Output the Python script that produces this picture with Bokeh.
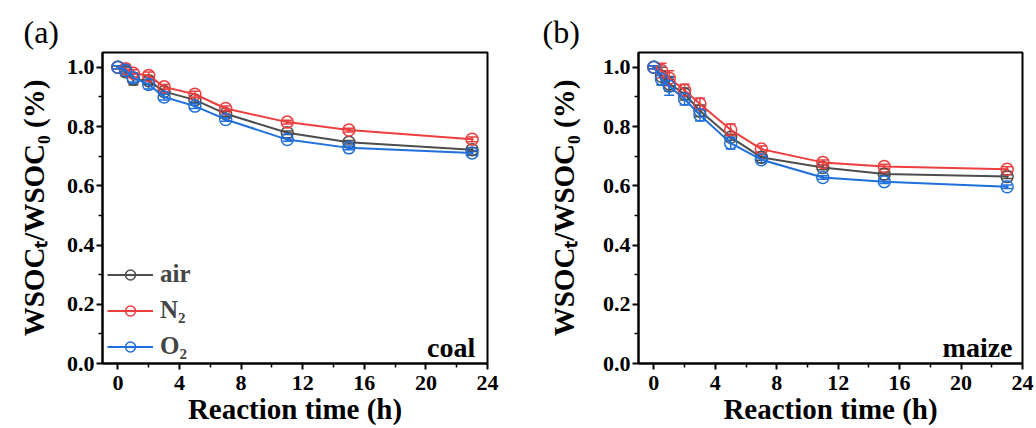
from bokeh.plotting import figure
from bokeh.layouts import row
from bokeh.models import (ColumnDataSource, Whisker, TeeHead, Legend, LegendItem,
                          FixedTicker, PrintfTickFormatter, Range1d, Label, Title)
from bokeh.embed import file_html
from bokeh.resources import INLINE

# ---- data ----
time_h = [0, 0.5, 1, 2, 3, 5, 7, 11, 15, 23]

coal_air = [1.0, 0.985, 0.96, 0.955, 0.918, 0.89, 0.843, 0.779, 0.747, 0.722]
coal_n2 = [1.0, 0.995, 0.98, 0.972, 0.934, 0.909, 0.861, 0.815, 0.788, 0.757]
coal_o2 = [1.0, 0.99, 0.965, 0.942, 0.90, 0.869, 0.824, 0.756, 0.728, 0.711]
coal_air_err = [0.005, 0.015, 0.02, 0.012, 0.008, 0.008, 0.008, 0.006, 0.006, 0.006]
coal_n2_err = [0.005, 0.015, 0.012, 0.012, 0.008, 0.01, 0.008, 0.006, 0.006, 0.008]
coal_o2_err = [0.005, 0.01, 0.015, 0.015, 0.01, 0.008, 0.006, 0.006, 0.006, 0.008]

maize_air = [1.0, 0.97, 0.944, 0.91, 0.853, 0.764, 0.696, 0.662, 0.64, 0.631]
maize_n2 = [1.0, 0.989, 0.963, 0.923, 0.876, 0.789, 0.724, 0.679, 0.665, 0.656]
maize_o2 = [1.0, 0.96, 0.936, 0.893, 0.839, 0.744, 0.688, 0.628, 0.614, 0.597]
maize_air_err = [0.005, 0.03, 0.025, 0.02, 0.02, 0.01, 0.01, 0.008, 0.006, 0.006]
maize_n2_err = [0.005, 0.025, 0.025, 0.02, 0.02, 0.02, 0.01, 0.008, 0.008, 0.008]
maize_o2_err = [0.005, 0.02, 0.03, 0.02, 0.02, 0.02, 0.01, 0.006, 0.006, 0.006]

series_names = ["air", "N\u2082", "O\u2082"]
series_colors = ["#4d4d4d", "#ee3e3e", "#1f6fdc"]
x_major = [0, 4, 8, 12, 16, 20, 24]
x_minor = [2, 6, 10, 14, 18, 22]
y_major = [0.0, 0.2, 0.4, 0.6, 0.8, 1.0]
y_minor = [0.1, 0.3, 0.5, 0.7, 0.9]

FONT = "Liberation Serif"


def make_panel(width, mb_left, mb_right, ylab_standoff, ys, errs, tag, tag_offset,
               name, name_x, show_legend):
    p = figure(width=width, height=428, output_backend="svg", toolbar_location=None,
               x_range=Range1d(-1, 24), y_range=Range1d(0, 1.05),
               min_border_left=mb_left, min_border_right=mb_right,
               min_border_top=52, min_border_bottom=65)
    p.grid.visible = False
    p.outline_line_color = "black"
    p.outline_line_width = 2
    p.background_fill_color = "white"
    p.border_fill_color = "white"

    p.title = Title(text=tag, align="left", offset=tag_offset, standoff=5,
                    text_font=FONT, text_font_size="32px", text_font_style="normal",
                    text_color="black")

    for ax in (p.xaxis[0], p.yaxis[0]):
        ax.axis_line_width = 2
        ax.major_tick_line_width = 2
        ax.minor_tick_line_width = 1.5
        ax.major_tick_in = 0
        ax.major_tick_out = 6
        ax.minor_tick_in = 0
        ax.minor_tick_out = 4
        ax.major_label_text_font = FONT
        ax.major_label_text_font_style = "bold"
        ax.major_label_text_font_size = "22px"
        ax.major_label_text_color = "black"
        ax.axis_label_text_font = FONT
        ax.axis_label_text_font_style = "bold"
        ax.axis_label_text_font_size = "29px"
        ax.axis_label_text_color = "black"

    p.xaxis.ticker = FixedTicker(ticks=x_major, minor_ticks=x_minor)
    p.yaxis.ticker = FixedTicker(ticks=y_major, minor_ticks=y_minor)
    p.yaxis.formatter = PrintfTickFormatter(format="%.1f")
    p.xaxis.axis_label = "Reaction time (h)"
    p.yaxis.axis_label = "WSOC\u209c/WSOC\u2080 (%)"
    p.xaxis.major_label_standoff = 6
    p.yaxis.major_label_standoff = 2
    p.xaxis.axis_label_standoff = 0
    p.yaxis.axis_label_standoff = ylab_standoff

    items = []
    for nm, col, yv, ev in zip(series_names, series_colors, ys, errs):
        src = ColumnDataSource(dict(x=time_h, y=yv,
                                    upper=[a + b for a, b in zip(yv, ev)],
                                    lower=[a - b for a, b in zip(yv, ev)]))
        w = Whisker(source=src, base="x", upper="upper", lower="lower",
                    line_color=col, line_width=1.5,
                    upper_head=TeeHead(size=10, line_color=col, line_width=1.5),
                    lower_head=TeeHead(size=10, line_color=col, line_width=1.5))
        p.add_layout(w)
        lr = p.line("x", "y", source=src, line_color=col, line_width=2)
        sr = p.scatter("x", "y", source=src, marker="circle_dot", size=12,
                       line_color=col, line_width=1.5, fill_color=None)
        items.append(LegendItem(label=nm, renderers=[lr, sr]))

    if show_legend:
        leg = Legend(items=items, location=(5, 3), orientation="vertical",
                     border_line_color=None, background_fill_alpha=0,
                     padding=0, margin=0, spacing=8, glyph_width=46, glyph_height=25,
                     label_standoff=7, label_text_font=FONT, label_text_font_style="bold",
                     label_text_font_size="25px", label_height=25)
        p.add_layout(leg)

    p.add_layout(Label(x=name_x, y=0.055, text=name, text_font=FONT, text_font_size="28px",
                       text_font_style="bold", text_baseline="alphabetic",
                       text_align="right", text_color="black"))
    return p


pa = make_panel(530, 102, 43, 14, [coal_air, coal_n2, coal_o2],
                [coal_air_err, coal_n2_err, coal_o2_err], "(a)", -79, "coal", 23.2, True)
pb = make_panel(506, 108, 14, 20, [maize_air, maize_n2, maize_o2],
                [maize_air_err, maize_n2_err, maize_o2_err], "(b)", -96, "maize", 23.35, False)

layout = row(pa, pb)
open("out.html", "w").write(file_html(layout, INLINE))
